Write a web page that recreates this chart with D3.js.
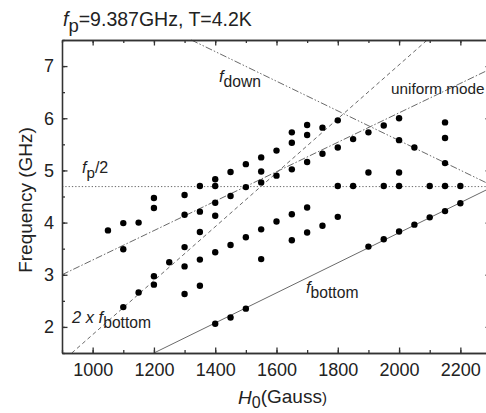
<!DOCTYPE html>
<html>
<head>
<meta charset="utf-8">
<script src="https://cdn.jsdelivr.net/npm/d3@7"></script>
<style>
  body { margin: 0; background: #fff; }
  text { font-family: "Liberation Sans", Arial, sans-serif; fill: #222; }
</style>
</head>
<body>
<div id="chart"></div>
<script>
// field columns (Gauss) and the resonance frequencies seen at each one (GHz)
const fieldH = [1050, 1100, 1150, 1200, 1250, 1300, 1350, 1400, 1450, 1500, 1550, 1600,
    1650, 1700, 1750, 1800, 1850, 1900, 1950, 2000, 2050, 2100, 2150, 2200];
const freqAtField = [
    [3.85],
    [3.99, 3.49, 2.38],
    [4.00, 2.66],
    [4.47, 4.28, 2.97, 2.81],
    [3.24],
    [4.53, 4.15, 3.53, 3.16, 2.63],
    [4.70, 4.21, 3.82, 3.29, 2.79],
    [4.83, 4.70, 4.38, 4.13, 3.43, 2.06],
    [4.97, 4.51, 3.57, 2.18],
    [5.12, 4.68, 3.72, 2.35],
    [5.25, 4.98, 4.77, 3.87, 3.30],
    [5.38, 4.90, 4.02],
    [5.73, 5.53, 5.02, 4.16, 3.66],
    [5.87, 5.68, 5.16, 4.29, 3.81],
    [5.82, 5.32, 3.94],
    [5.96, 5.44, 4.70, 4.11],
    [5.60, 4.70],
    [5.73, 4.96, 3.54],
    [5.86, 4.70, 3.68],
    [6.00, 5.58, 4.96, 4.70, 3.83],
    [5.44, 3.96],
    [4.70, 4.10],
    [5.92, 5.62, 5.14, 4.70, 4.22],
    [4.70, 4.37]
];

// guide lines, end points as [H, f]
const fDown = [[1322, 7.5], [2300, 4.72]];
const uniformMode = [[900, 3.0], [2300, 6.95]];
const twoFBottom = [[932, 1.5], [2092, 7.5]];
const fBottom = [[1200, 1.5], [2300, 4.67]];
const halfFp = [[900, 4.69], [2300, 4.69]];

const xTicks = [1000, 1200, 1400, 1600, 1800, 2000, 2200];
const yTicks = [2, 3, 4, 5, 6, 7];

const svgWidth = 486;
const svgHeight = 413;
const margins = { top: 40, right: -5, bottom: 60, left: 62 };
const chartWidth = svgWidth - margins.left - margins.right;
const chartHeight = svgHeight - margins.top - margins.bottom;

const svg = d3.select("#chart")
    .append("svg")
    .attr("width", svgWidth)
    .attr("height", svgHeight);

const chartGroup = svg.append("g")
    .attr("transform", `translate(${margins.left}, ${margins.top})`);

const xScale = d3.scaleLinear().domain([900, 2300]).range([0, chartWidth]);
const yScale = d3.scaleLinear().domain([1.5, 7.5]).range([chartHeight, 0]);

// points
const points = [];
fieldH.forEach((h, i) => {
    freqAtField[i].forEach(f => points.push({ h: h, f: f }));
});

// guide lines
const line = d3.line().x(d => xScale(d[0])).y(d => yScale(d[1]));
const guides = [
    { data: fDown, dash: "7,2,1.5,2,1.5,2" },
    { data: uniformMode, dash: "7,2,1.5,2" },
    { data: twoFBottom, dash: "4,3" },
    { data: fBottom, dash: null },
    { data: halfFp, dash: "1.3,2" }
];
chartGroup.selectAll(".guide")
    .data(guides)
    .enter()
    .append("path")
    .attr("class", "guide")
    .attr("d", d => line(d.data))
    .attr("fill", "none")
    .attr("stroke", "#6a6a6a")
    .attr("stroke-width", 1)
    .attr("stroke-dasharray", d => d.dash);

chartGroup.selectAll("circle")
    .data(points)
    .enter()
    .append("circle")
    .attr("cx", d => xScale(d.h))
    .attr("cy", d => yScale(d.f))
    .attr("r", 3.2)
    .attr("fill", "#000");

// axes, ticks inward
const xMinor = d3.range(900, 2301, 100);
const yMinor = d3.range(1.5, 7.51, 0.5);

function drawAxis(axisFn, scale, major, minor, transform, labels) {
    const g = chartGroup.append("g").attr("transform", transform);
    g.call(axisFn(scale).tickValues(minor).tickSizeInner(-3).tickSizeOuter(0).tickFormat(""));
    const gMajor = chartGroup.append("g").attr("transform", transform);
    gMajor.call(axisFn(scale).tickValues(major).tickSizeInner(-5.5).tickSizeOuter(0)
        .tickPadding(axisFn === d3.axisBottom ? 10 : 8)
        .tickFormat(labels ? d3.format("d") : ""));
    [g, gMajor].forEach(s => {
        s.selectAll("path, line").attr("stroke", "#333").attr("stroke-width", 1.3);
        s.selectAll("text").attr("font-size", 18).attr("fill", "#222")
            .style("font-family", '"Liberation Sans", Arial, sans-serif');
    });
}
drawAxis(d3.axisBottom, xScale, xTicks, xMinor, `translate(0, ${chartHeight})`, true);
drawAxis(d3.axisTop, xScale, xTicks, xMinor, "translate(0, 0)", false);
drawAxis(d3.axisLeft, yScale, yTicks, yMinor, "translate(0, 0)", true);
drawAxis(d3.axisRight, yScale, yTicks, yMinor, `translate(${chartWidth}, 0)`, false);

// subscripted labels: main part, then sub part lowered
function subLabel(parent, x, y, main, sub, size, mainItalic, rest) {
    const t = parent.append("text").attr("x", x).attr("y", y).attr("font-size", size);
    t.append("tspan").attr("font-style", mainItalic ? "italic" : "normal").text(main);
    t.append("tspan").attr("dy", size * 0.3).attr("font-size", size * 0.95).text(sub);
    if (rest) t.append("tspan").attr("dy", -size * 0.3).text(rest);
    return t;
}

subLabel(svg, 63, 26, "f", "p", 19.5, true, "=9.387GHz, T=4.2K");
subLabel(svg, 219, 82, "f", "down", 16.5, true);
svg.append("text").attr("x", 391).attr("y", 94).attr("font-size", 15.3).text("uniform mode");
subLabel(svg, 82, 173, "f", "p", 16, true, "/2");
subLabel(svg, 72, 323, "2 x f", "bottom", 16.5, true);
subLabel(svg, 306, 293, "f", "bottom", 16.5, true);

// axis titles
const xTitle = svg.append("text")
    .attr("x", 238).attr("y", 404).attr("font-size", 19);
xTitle.append("tspan").attr("font-style", "italic").text("H");
xTitle.append("tspan").attr("dy", 4).attr("font-size", 16).text("0");
xTitle.append("tspan").attr("dy", -5).text("(Gauss");
xTitle.append("tspan").attr("font-size", 15).text(")");

svg.append("text")
    .attr("transform", "rotate(-90)")
    .attr("x", -200)
    .attr("y", 32)
    .attr("text-anchor", "middle")
    .attr("font-size", 19)
    .text("Frequency (GHz)");
</script>
</body>
</html>
